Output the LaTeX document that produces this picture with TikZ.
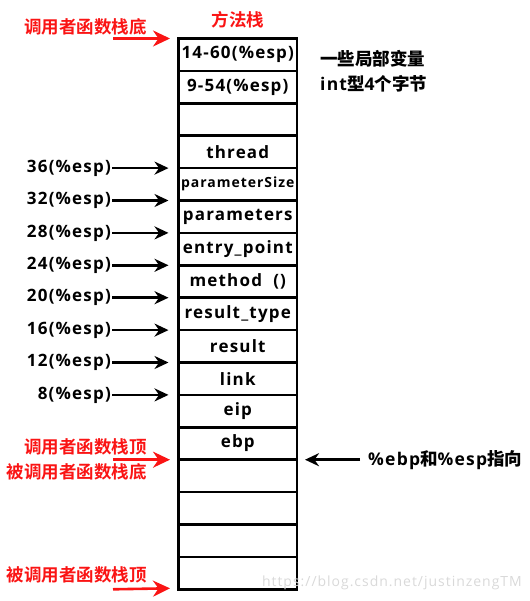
\documentclass[tikz,border=0pt]{standalone}
\usepackage{fontspec}
\setmainfont{Open Sans}[LetterSpace=7]
\newfontfamily\cjk{Noto Sans CJK SC Bold}
\newcommand\zh[1]{{\cjk #1}}
\usetikzlibrary{arrows.meta,positioning,calc}
\definecolor{callred}{RGB}{250,20,20}
\tikzset{
  cell/.style={rectangle,draw,line width=2.6pt,minimum width=118.5pt,
               minimum height=32.4pt,outer sep=0pt,inner sep=0pt,
               font=\fontsize{17}{20}\selectfont\bfseries},
  esplabel/.style={anchor=east,inner sep=1pt,font=\fontsize{17}{20}\selectfont\bfseries},
  zhlabel/.style={inner sep=0pt,font=\fontsize{17.5}{25}\selectfont\cjk,
                  text=callred,align=right},
  note/.style={inner sep=0pt,align=left,font=\fontsize{17.5}{25}\selectfont\bfseries},
  arr/.style={-{Stealth[length=14pt,width=13pt]},line width=2.6pt},
  redarr/.style={-{Stealth[length=17pt,width=16pt]},line width=2.6pt,color=callred},
}

\begin{document}
\begin{tikzpicture}[x=1pt,y=-1pt]
    \useasboundingbox (0,0) rectangle (529,601);

    % 方法栈的各个格子
    \node[cell] (c1) at (237.75,54.7) {14-60(\%esp)};
    \node[cell, below=0pt of c1] (c2) {9-54(\%esp)};
    \node[cell, below=0pt of c2] (c3) {};
    \node[cell, below=0pt of c3] (c4) {thread};
    \node[cell, below=0pt of c4, font=\fontsize{14}{16}\selectfont\bfseries] (c5) {parameterSize};
    \node[cell, below=0pt of c5] (c6) {parameters};
    \node[cell, below=0pt of c6] (c7) {entry\_point};
    \node[cell, below=0pt of c7] (c8) {method\ \ ()};
    \node[cell, below=0pt of c8] (c9) {result\_type};
    \node[cell, below=0pt of c9] (c10) {result};
    \node[cell, below=0pt of c10] (c11) {link};
    \node[cell, below=0pt of c11] (c12) {eip};
    \node[cell, below=0pt of c12] (c13) {ebp};
    \node[cell, below=0pt of c13] (c14) {};
    \node[cell, below=0pt of c14] (c15) {};
    \node[cell, below=0pt of c15] (c16) {};
    \node[cell, below=0pt of c16] (c17) {};

    \node[zhlabel, above=10pt of c1] (title) {方法栈};

    % 右边的说明
    \node[note, anchor=west] (local) at ([xshift=23pt]c1.south east)
        {\zh{一些局部变量}\\int\zh{型}4\zh{个字节}};

    % 左边的偏移量
    \node[esplabel] (l36) at ([xshift=-66.5pt]c5.north west) {36(\%esp)};
    \node[esplabel] (l32) at ([xshift=-66.5pt]c6.north west) {32(\%esp)};
    \node[esplabel] (l28) at ([xshift=-66.5pt]c7.north west) {28(\%esp)};
    \node[esplabel] (l24) at ([xshift=-66.5pt]c8.north west) {24(\%esp)};
    \node[esplabel] (l20) at ([xshift=-66.5pt]c9.north west) {20(\%esp)};
    \node[esplabel] (l16) at ([xshift=-66.5pt]c10.north west) {16(\%esp)};
    \node[esplabel] (l12) at ([xshift=-66.5pt]c11.north west) {12(\%esp)};
    \node[esplabel] (l8) at ([xshift=-66.5pt]c12.north west) {8(\%esp)};

    \draw[arr] (l36.east) -- ([xshift=-10pt]c5.north west);
    \draw[arr] (l32.east) -- ([xshift=-10pt]c6.north west);
    \draw[arr] (l28.east) -- ([xshift=-10pt]c7.north west);
    \draw[arr] (l24.east) -- ([xshift=-10pt]c8.north west);
    \draw[arr] (l20.east) -- ([xshift=-10pt]c9.north west);
    \draw[arr] (l16.east) -- ([xshift=-10pt]c10.north west);
    \draw[arr] (l12.east) -- ([xshift=-10pt]c11.north west);
    \draw[arr] (l8.east) -- ([xshift=-10pt]c12.north west);

    % 红色的栈底栈顶
    \node[zhlabel, anchor=east] (callerbot) at ([xshift=-31.5pt,yshift=11.5pt]c1.north west) {调用者函数栈底};
    \node[zhlabel, anchor=east] (callertop) at ([xshift=-31.5pt]c13.south west)
        {调用者函数栈顶\\被调用者函数栈底};
    \node[zhlabel, anchor=east] (calleetop) at ([xshift=-31.5pt,yshift=14pt]c17.south west) {被调用者函数栈顶};

    \coordinate (r1) at ([xshift=-65.5pt]c1.north west);
    \coordinate (r2) at ([xshift=-65.5pt]c13.south west);
    \coordinate (r3) at ([xshift=-65.5pt]c17.south west);
    \draw[redarr] (r1) -- ([xshift=-8.5pt]c1.north west);
    \draw[redarr] (r2) -- ([xshift=-8.5pt]c13.south west);
    \draw[redarr] (r3) -- ([xshift=-8.5pt,yshift=1pt]c17.south west);

    % ebp 和 esp
    \node[note, anchor=west] (ebpesp) at ([xshift=71pt]c13.south east) {\%ebp\zh{和}\%esp\zh{指向}};
    \draw[arr] (ebpesp.west) ++(-8pt,0) coordinate (e1) (e1) -- ([xshift=8pt]c13.south east);

    \node[anchor=east, inner sep=0pt, text=gray!30, font=\fontsize{14}{15}\selectfont] (wm)
        at (522,583) {https://blog.csdn.net/justinzengTM};
\end{tikzpicture}
\end{document}
